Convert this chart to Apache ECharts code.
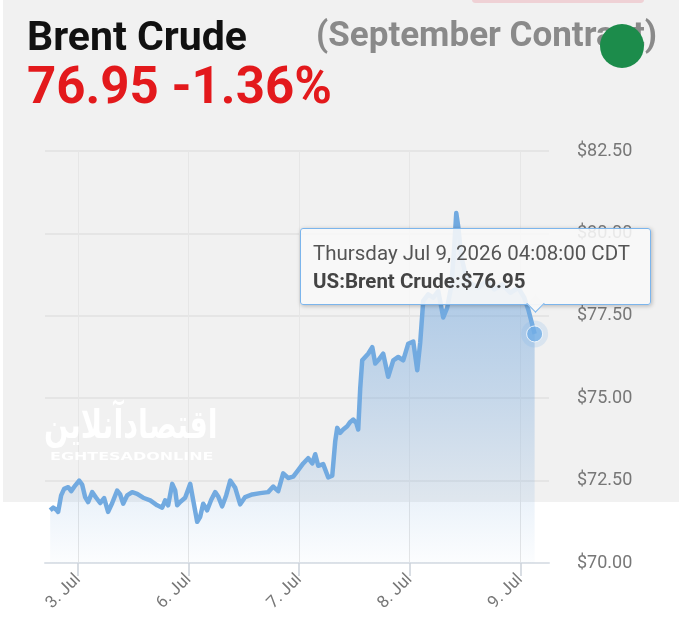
<!DOCTYPE html>
<html>
<head>
<meta charset="utf-8">
<script src="https://cdn.jsdelivr.net/npm/echarts@6/dist/echarts.min.js"></script>
<style>
html,body{margin:0;padding:0;background:#fff;}
#chart{width:679px;height:634px;}
</style>
</head>
<body>
<div id="chart"></div>
<script>
// ---- data ----
var dayTicks = [0, 1, 2, 3, 4];
var dayLabels = ['3. Jul', '6. Jul', '7. Jul', '8. Jul', '9. Jul'];
var yTicks = [70, 72.5, 75, 77.5, 80, 82.5];
var priceDays = [
  -0.253,-0.226,-0.199,-0.181,-0.154,-0.127,-0.090,-0.063,-0.027,0.009,
  0.036,0.063,0.090,0.127,0.163,0.199,0.235,0.271,0.308,0.353,
  0.380,0.407,0.443,0.489,0.534,0.588,0.652,0.715,0.760,0.787,
  0.814,0.851,0.878,0.896,0.923,0.968,1.014,1.041,1.077,1.104,
  1.131,1.167,1.204,1.240,1.267,1.303,1.339,1.376,1.421,1.466,
  1.511,1.575,1.647,1.719,1.765,1.810,1.855,1.900,1.946,1.991,
  2.036,2.081,2.118,2.145,2.172,2.217,2.262,2.299,2.326,2.344,
  2.371,2.398,2.434,2.462,2.489,2.516,2.534,2.552,2.570,2.597,
  2.624,2.661,2.688,2.715,2.760,2.805,2.851,2.896,2.941,2.986,
  3.032,3.068,3.095,3.122,3.167,3.213,3.258,3.303,3.339,3.376,
  3.403,3.421,3.439,3.466,3.502,3.548,3.620,3.692,3.765,3.837,
  3.910,3.982,4.036,4.072,4.130
];
var priceValues = [
  71.60,71.68,71.62,71.55,72.05,72.25,72.30,72.18,72.35,72.50,
  72.38,72.00,71.85,72.15,71.98,71.82,71.97,71.55,71.82,72.20,
  72.08,71.80,72.05,72.15,72.10,71.98,71.90,71.75,71.68,71.90,
  71.75,72.40,72.20,71.75,71.85,71.98,72.40,71.90,71.25,71.40,
  71.80,71.60,71.92,72.15,72.02,71.72,72.05,72.50,72.28,71.78,
  72.00,72.08,72.12,72.15,72.32,72.18,72.72,72.58,72.62,72.82,
  73.02,73.18,73.02,73.30,72.95,73.00,72.60,72.65,73.70,74.10,
  73.95,74.05,74.15,74.28,74.35,74.25,74.05,75.30,76.15,76.25,
  76.35,76.55,76.05,76.15,76.35,75.65,76.15,76.25,76.15,76.65,
  76.72,75.85,76.70,77.95,78.15,78.05,78.25,77.45,77.75,78.40,
  79.60,80.62,80.20,79.30,78.80,78.50,78.35,78.55,78.30,78.45,
  78.20,78.35,78.05,77.70,76.95
];
var seriesName = 'US:Brent Crude';
var changePct = '-1.36%';
var tipDate = 'Thursday Jul 9, 2026 04:08:00 CDT';

var lineData = priceDays.map(function (d, i) { return [d, priceValues[i]]; });
var lastIdx = lineData.length - 1;
var lastPoint = [lineData[lastIdx]];

var chart = echarts.init(document.getElementById('chart'), null, {renderer: 'canvas'});
var font = 'Roboto, "Noto Sans", sans-serif';

var option = {
  animation: false,
  backgroundColor: '#ffffff',
  textStyle: {fontFamily: font},
  title: [
    {text: 'Brent Crude', left: 22, top: 14,
     textStyle: {fontFamily: font, fontSize: 41, fontWeight: 'bold', color: '#111'}},
    {text: priceValues[lastIdx].toFixed(2) + ' ' + changePct, left: 22, top: 60,
     textStyle: {fontFamily: font, fontSize: 51, fontWeight: 'bold', color: '#e3191c'}},
    {text: '(September Contract)', left: 311, top: 15,
     textStyle: {fontFamily: font, fontSize: 35, fontWeight: 'bold', color: '#8a8a8a'}}
  ],
  graphic: [
    {type: 'rect', z: -10, silent: true, shape: {x: 3, y: 0, width: 679, height: 502},
     style: {fill: '#f1f1f1'}},
    {type: 'rect', z: -9, silent: true, shape: {x: 472, y: -4, width: 172, height: 7, r: 4},
     style: {fill: 'rgba(235,150,160,0.35)'}},
    {type: 'circle', z: 50, silent: true, shape: {cx: 622, cy: 46, r: 22},
     style: {fill: '#1c8c4b'}},
    {type: 'text', z: 50, silent: true, left: 44, top: 408, scaleX: 0.72,
     style: {text: 'اقتصادآنلاین', font: 'bold 40px "DejaVu Sans", sans-serif', fill: 'rgba(255,255,255,0.95)'}},
    {type: 'text', z: 50, silent: true, left: 50, top: 452, scaleX: 1.45,
     style: {text: 'EGHTESADONLINE', font: 'bold 11px "DejaVu Sans", sans-serif', fill: 'rgba(255,255,255,0.95)'}}
  ],
  grid: {left: 45, right: 130, top: 151, bottom: 71, outerBoundsMode: 'none', containLabel: false},
  tooltip: {
    trigger: 'item',
    triggerOn: 'none',
    alwaysShowContent: true,
    transitionDuration: 0,
    showDelay: 0,
    backgroundColor: 'rgba(248,248,248,0.88)',
    borderColor: '#7cb5ec',
    borderWidth: 1.5,
    padding: 0,
    extraCssText: 'box-shadow:1px 1px 4px rgba(0,0,0,0.25);border-radius:3px;box-sizing:border-box;width:351px;height:77px;',
    position: function () { return [300, 228]; },
    formatter: function (p) {
      return '<div style="position:relative;padding:10px 12px;font-family:Roboto,sans-serif;">' +
        '<div style="font-size:20.5px;color:#555;line-height:28px;white-space:nowrap;">' + tipDate + '</div>' +
        '<div style="font-size:20.5px;color:#444;font-weight:bold;line-height:28px;white-space:nowrap;">' +
        seriesName + ':$' + p.value[1].toFixed(2) + '</div>' +
        '<div style="position:absolute;left:228px;top:68px;width:12px;height:12px;background:rgba(248,248,248,0.95);' +
        'border-right:1.5px solid #7cb5ec;border-bottom:1.5px solid #7cb5ec;transform:rotate(45deg);"></div>' +
        '</div>';
    }
  },
  xAxis: {
    type: 'value',
    min: -0.3,
    max: 4.26,
    axisLine: {show: true, lineStyle: {color: '#dde2e8', width: 2}},
    axisTick: {show: true, length: 13, customValues: dayTicks, lineStyle: {color: '#ccd2da', width: 1.5}},
    axisLabel: {
      customValues: dayTicks,
      rotate: 45,
      margin: 14,
      color: '#777',
      fontSize: 17,
      fontFamily: font,
      formatter: function (v) {
        var i = dayTicks.indexOf(Math.round(v));
        return i >= 0 ? dayLabels[i] : '';
      }
    },
    splitLine: {show: true, lineStyle: {color: '#e6e6e6', width: 1}}
  },
  yAxis: {
    type: 'value',
    position: 'right',
    min: yTicks[0],
    max: yTicks[yTicks.length - 1],
    interval: 2.5,
    axisLine: {show: false},
    axisTick: {show: false},
    axisLabel: {
      margin: 28,
      color: '#777',
      fontSize: 18,
      fontFamily: font,
      formatter: function (v) { return '$' + v.toFixed(2); }
    },
    splitLine: {show: true, lineStyle: {color: '#e0e0e0', width: 1.5}}
  },
  series: [
    {
      type: 'line',
      name: seriesName,
      data: lineData,
      showSymbol: false,
      smooth: false,
      z: 3,
      lineStyle: {color: '#72aae0', width: 4.5, join: 'round'},
      areaStyle: {
        color: {
          type: 'linear', x: 0, y: 0, x2: 0, y2: 1,
          colorStops: [
            {offset: 0, color: 'rgba(112,165,220,0.9)'},
            {offset: 0.5, color: 'rgba(112,165,220,0.5)'},
            {offset: 1, color: 'rgba(112,165,220,0.03)'}
          ]
        }
      },
      tooltip: {show: false}
    },
    {
      type: 'scatter',
      name: 'halo',
      data: lastPoint,
      symbolSize: 27,
      z: 4,
      silent: true,
      itemStyle: {color: 'rgba(124,181,236,0.25)'},
      tooltip: {show: false}
    },
    {
      type: 'scatter',
      name: seriesName,
      data: lastPoint,
      symbolSize: 16,
      z: 5,
      itemStyle: {color: '#72aee6', borderColor: '#ffffff', borderWidth: 1}
    }
  ]
};
chart.setOption(option);
chart.dispatchAction({type: 'showTip', seriesIndex: 2, dataIndex: 0});
</script>
</body>
</html>
